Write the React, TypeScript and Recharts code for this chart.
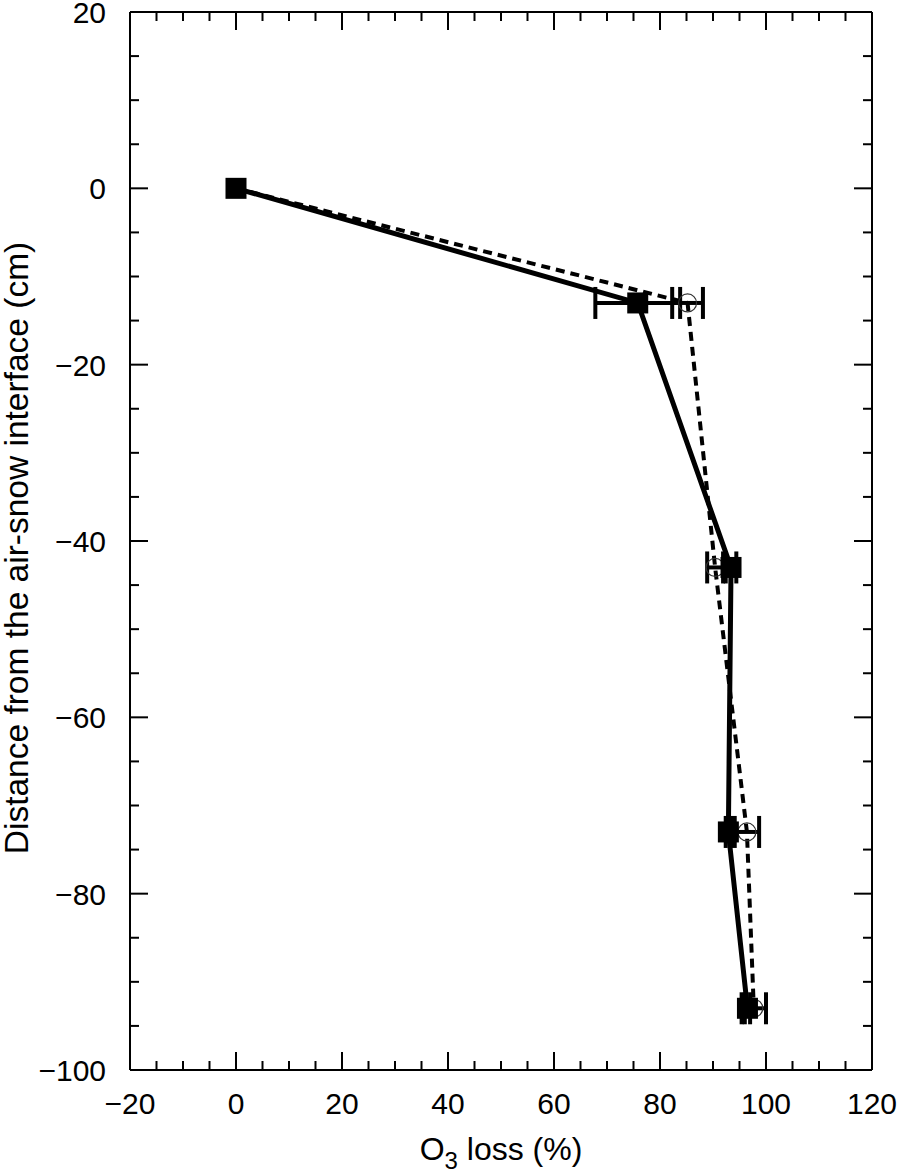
import React from "react";
import {
  ScatterChart, Scatter, XAxis, YAxis, ErrorBar, ReferenceLine,
} from "recharts";

// depth below the air-snow interface (cm)
const depths = [0, -13, -43, -73, -93];
// filled squares, solid line
const solidLoss = [0, 75.8, 93.4, 92.9, 96.5];
const solidErr = [0, 8, 1, 0.5, 0.5];
// open circles, dashed line
const dashedLoss = [0, 85.2, 90.4, 96.4, 97.7];
const dashedErr = [0, 2.9, 1.5, 2.3, 2.3];

const xTicks = [-20, -15, -10, -5, 0, 5, 10, 15, 20, 25, 30, 35, 40, 45, 50, 55, 60, 65, 70, 75, 80, 85, 90, 95, 100, 105, 110, 115, 120];
const yTicks = [20, 15, 10, 5, 0, -5, -10, -15, -20, -25, -30, -35, -40, -45, -50, -55, -60, -65, -70, -75, -80, -85, -90, -95, -100];

const W = 897;
const H = 1175;
const M = { top: 12, right: 25, bottom: 45, left: 10 };
const Y_AXIS_W = 120;
const X_AXIS_H = 60;
const PLOT_W = W - M.left - M.right - Y_AXIS_W;
const PLOT_H = H - M.top - M.bottom - X_AXIS_H;
const FONT = "'Liberation Sans', Arial, Helvetica, sans-serif";

const solidData = depths.map((d, i) => ({ x: solidLoss[i], y: d, err: solidErr[i] }));
const dashedData = depths.map((d, i) => ({ x: dashedLoss[i], y: d, err: dashedErr[i] }));

const fmt = (v: number) => (v < 0 ? "\u2212" + Math.abs(v) : String(v));

const XTick = (props: any) => {
  const { x, y, payload } = props;
  const v = payload.value as number;
  const major = v % 20 === 0;
  const len = major ? 18 : 9;
  const edge = v === -20 || v === 120;
  return (
    <g>
      {!edge && (
        <>
          <line x1={x} y1={y} x2={x} y2={y - len} stroke="#000" strokeWidth={2} />
          <line x1={x} y1={y - PLOT_H} x2={x} y2={y - PLOT_H + len} stroke="#000" strokeWidth={2} />
        </>
      )}
      {major && (
        <text x={x} y={y + 44} textAnchor="middle" fontSize={30} fontFamily={FONT} fill="#000">
          {fmt(v)}
        </text>
      )}
    </g>
  );
};

const YTick = (props: any) => {
  const { x, y, payload } = props;
  const v = payload.value as number;
  const major = v % 20 === 0;
  const len = major ? 18 : 9;
  const edge = v === 20 || v === -100;
  return (
    <g>
      {!edge && (
        <>
          <line x1={x} y1={y} x2={x + len} y2={y} stroke="#000" strokeWidth={2} />
          <line x1={x + PLOT_W} y1={y} x2={x + PLOT_W - len} y2={y} stroke="#000" strokeWidth={2} />
        </>
      )}
      {major && (
        <text x={x - 24} y={y + 11} textAnchor="end" fontSize={30} fontFamily={FONT} fill="#000">
          {fmt(v)}
        </text>
      )}
    </g>
  );
};

const XTitle = (props: any) => {
  const { viewBox } = props;
  const cx = viewBox.x + viewBox.width / 2;
  return (
    <text x={cx} y={H - 15} textAnchor="middle" fontSize={32} fontFamily={FONT} fill="#000">
      O<tspan fontSize={24} dy={9}>3</tspan><tspan dy={-9}> loss (%)</tspan>
    </text>
  );
};

const YTitle = (props: any) => {
  const { viewBox } = props;
  const cy = viewBox.y + viewBox.height / 2 + 7;
  return (
    <text
      x={28} y={cy} textAnchor="middle" fontSize={33.5} fontFamily={FONT} fill="#000"
      transform={`rotate(-90 28 ${cy})`}
    >
      Distance from the air-snow interface (cm)
    </text>
  );
};

const Square = (props: any) => {
  const { cx, cy } = props;
  if (cx == null || cy == null) return null;
  return <rect x={cx - 10.5} y={cy - 10.5} width={21} height={21} fill="#000" />;
};

const Circle = (props: any) => {
  const { cx, cy } = props;
  if (cx == null || cy == null) return null;
  return <circle cx={cx} cy={cy} r={9} fill="none" stroke="#333" strokeWidth={1.2} />;
};

export default function App() {
  return (
    <div style={{ position: "absolute", left: 0, top: 0, background: "#fff" }}>
      <ScatterChart width={W} height={H} margin={M}>
        <XAxis
          type="number" dataKey="x" domain={[-20, 120]} ticks={xTicks} interval={0}
          tick={<XTick />} tickSize={0} tickMargin={0} height={X_AXIS_H}
          axisLine={{ stroke: "#000", strokeWidth: 2 }} tickLine={false}
          allowDataOverflow label={<XTitle />}
        />
        <YAxis
          type="number" dataKey="y" domain={[-100, 20]} ticks={yTicks} interval={0}
          tick={<YTick />} tickSize={0} tickMargin={0} width={Y_AXIS_W}
          axisLine={{ stroke: "#000", strokeWidth: 2 }} tickLine={false}
          allowDataOverflow label={<YTitle />}
        />
        <ReferenceLine y={20} stroke="#000" strokeWidth={2} />
        <ReferenceLine x={120} stroke="#000" strokeWidth={2} />
        <Scatter
          data={dashedData} isAnimationActive={false} shape={<Circle />}
          line={{ stroke: "#000", strokeWidth: 4, strokeDasharray: "9 6" }} lineType="joint"
        >
          <ErrorBar dataKey="err" direction="x" width={16} stroke="#000" strokeWidth={4} isAnimationActive={false} />
        </Scatter>
        <Scatter
          data={solidData} isAnimationActive={false} shape={<Square />}
          line={{ stroke: "#000", strokeWidth: 5 }} lineType="joint"
        >
          <ErrorBar dataKey="err" direction="x" width={16} stroke="#000" strokeWidth={4} isAnimationActive={false} />
        </Scatter>
      </ScatterChart>
    </div>
  );
}
